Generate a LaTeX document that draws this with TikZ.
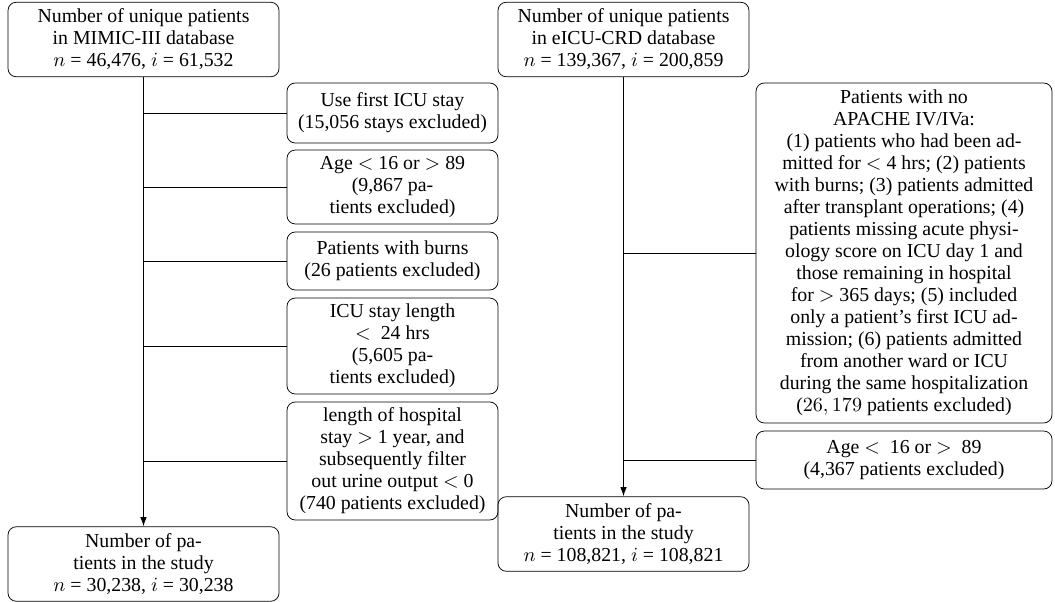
\documentclass[tikz,border=0pt]{standalone}
\usepackage{fontspec}
\setmainfont{Liberation Serif}
\usetikzlibrary{arrows.meta}
\begin{document}
\begin{tikzpicture}[x=0.545pt,y=-0.545pt,
base/.style={
rounded corners=4.5pt,
draw,
align=center,
inner sep=2pt,
font={\fontsize{10.8pt}{12pt}\selectfont},
},
mainl/.style={
base,
minimum width=147.7pt,
minimum height=40.6pt,
},
mainr/.style={
base,
minimum width=136.8pt,
minimum height=40.6pt,
},
exl/.style={
base,
minimum width=115pt,
},
exr/.style={
base,
minimum width=161.3pt,
},
flow/.style={
draw,
line width=0.5pt,
-{Latex[length=5pt,width=3.5pt]},
},
link/.style={
draw,
line width=0.5pt,
},
]
\useasboundingbox (0,0) rectangle (1055,601);
% MIMIC-III
\node[mainl](mimic)at(143.5,39.5){Number of unique patients\\in MIMIC-III database\\$n$ = 46,476, $i$ = 61,532};
\node[exl,minimum height=32.7pt](ml1)at(392.5,113){Use first ICU stay\\(15,056 stays excluded)};
\node[exl,minimum height=40.3pt](ml2)at(392.5,187){Age $<$ 16 or $>$ 89\\(9,867 pa-\\tients excluded)};
\node[exl,minimum height=31.6pt](ml3)at(392.5,261){Patients with burns\\(26 patients excluded)};
\node[exl,minimum height=52.3pt](ml4)at(392.5,346){ICU stay length\\$<$\ \ 24 hrs\\(5,605 pa-\\tients excluded)};
\node[exl,minimum height=64.3pt](ml5)at(392.5,461){length of hospital\\stay $>$ 1 year, and\\subsequently filter\\out urine output $<$ 0\\(740 patients excluded)};
\node[mainl](mstudy)at(143.5,564){Number of pa-\\tients in the study\\$n$ = 30,238, $i$ = 30,238};
% eICU-CRD
\node[mainr](eicu)at(623.5,39.5){Number of unique patients\\in eICU-CRD database\\$n$ = 139,367, $i$ = 200,859};
\node[exr,minimum height=185.3pt](er1)at(904,253){Patients with no\\APACHE IV/IVa:\\(1) patients who had been ad-\\mitted for $<$ 4 hrs; (2) patients\\with burns; (3) patients admitted\\after transplant operations; (4)\\patients missing acute physi-\\ology score on ICU day 1 and\\those remaining in hospital\\for $>$ 365 days; (5) included\\only a patient's first ICU ad-\\mission; (6) patients admitted\\from another ward or ICU\\during the same hospitalization\\($26,179$ patients excluded)};
\node[exr,minimum height=31.6pt](er2)at(904,460){Age $<$\ \ 16 or $>$\ \ 89\\(4,367 patients excluded)};
\node[mainr](estudy)at(623.5,534){Number of pa-\\tients in the study\\$n$ = 108,821, $i$ = 108,821};
% connectors
\draw[flow](mimic)--(mstudy);
\foreach \b in {ml1,ml2,ml3,ml4,ml5}{
\draw[link](mimic.south|-\b.west)--(\b.west);
}
\draw[flow](eicu)--(estudy);
\foreach \b in {er1,er2}{
\draw[link](eicu.south|-\b.west)--(\b.west);
}
\end{tikzpicture}
\end{document}
